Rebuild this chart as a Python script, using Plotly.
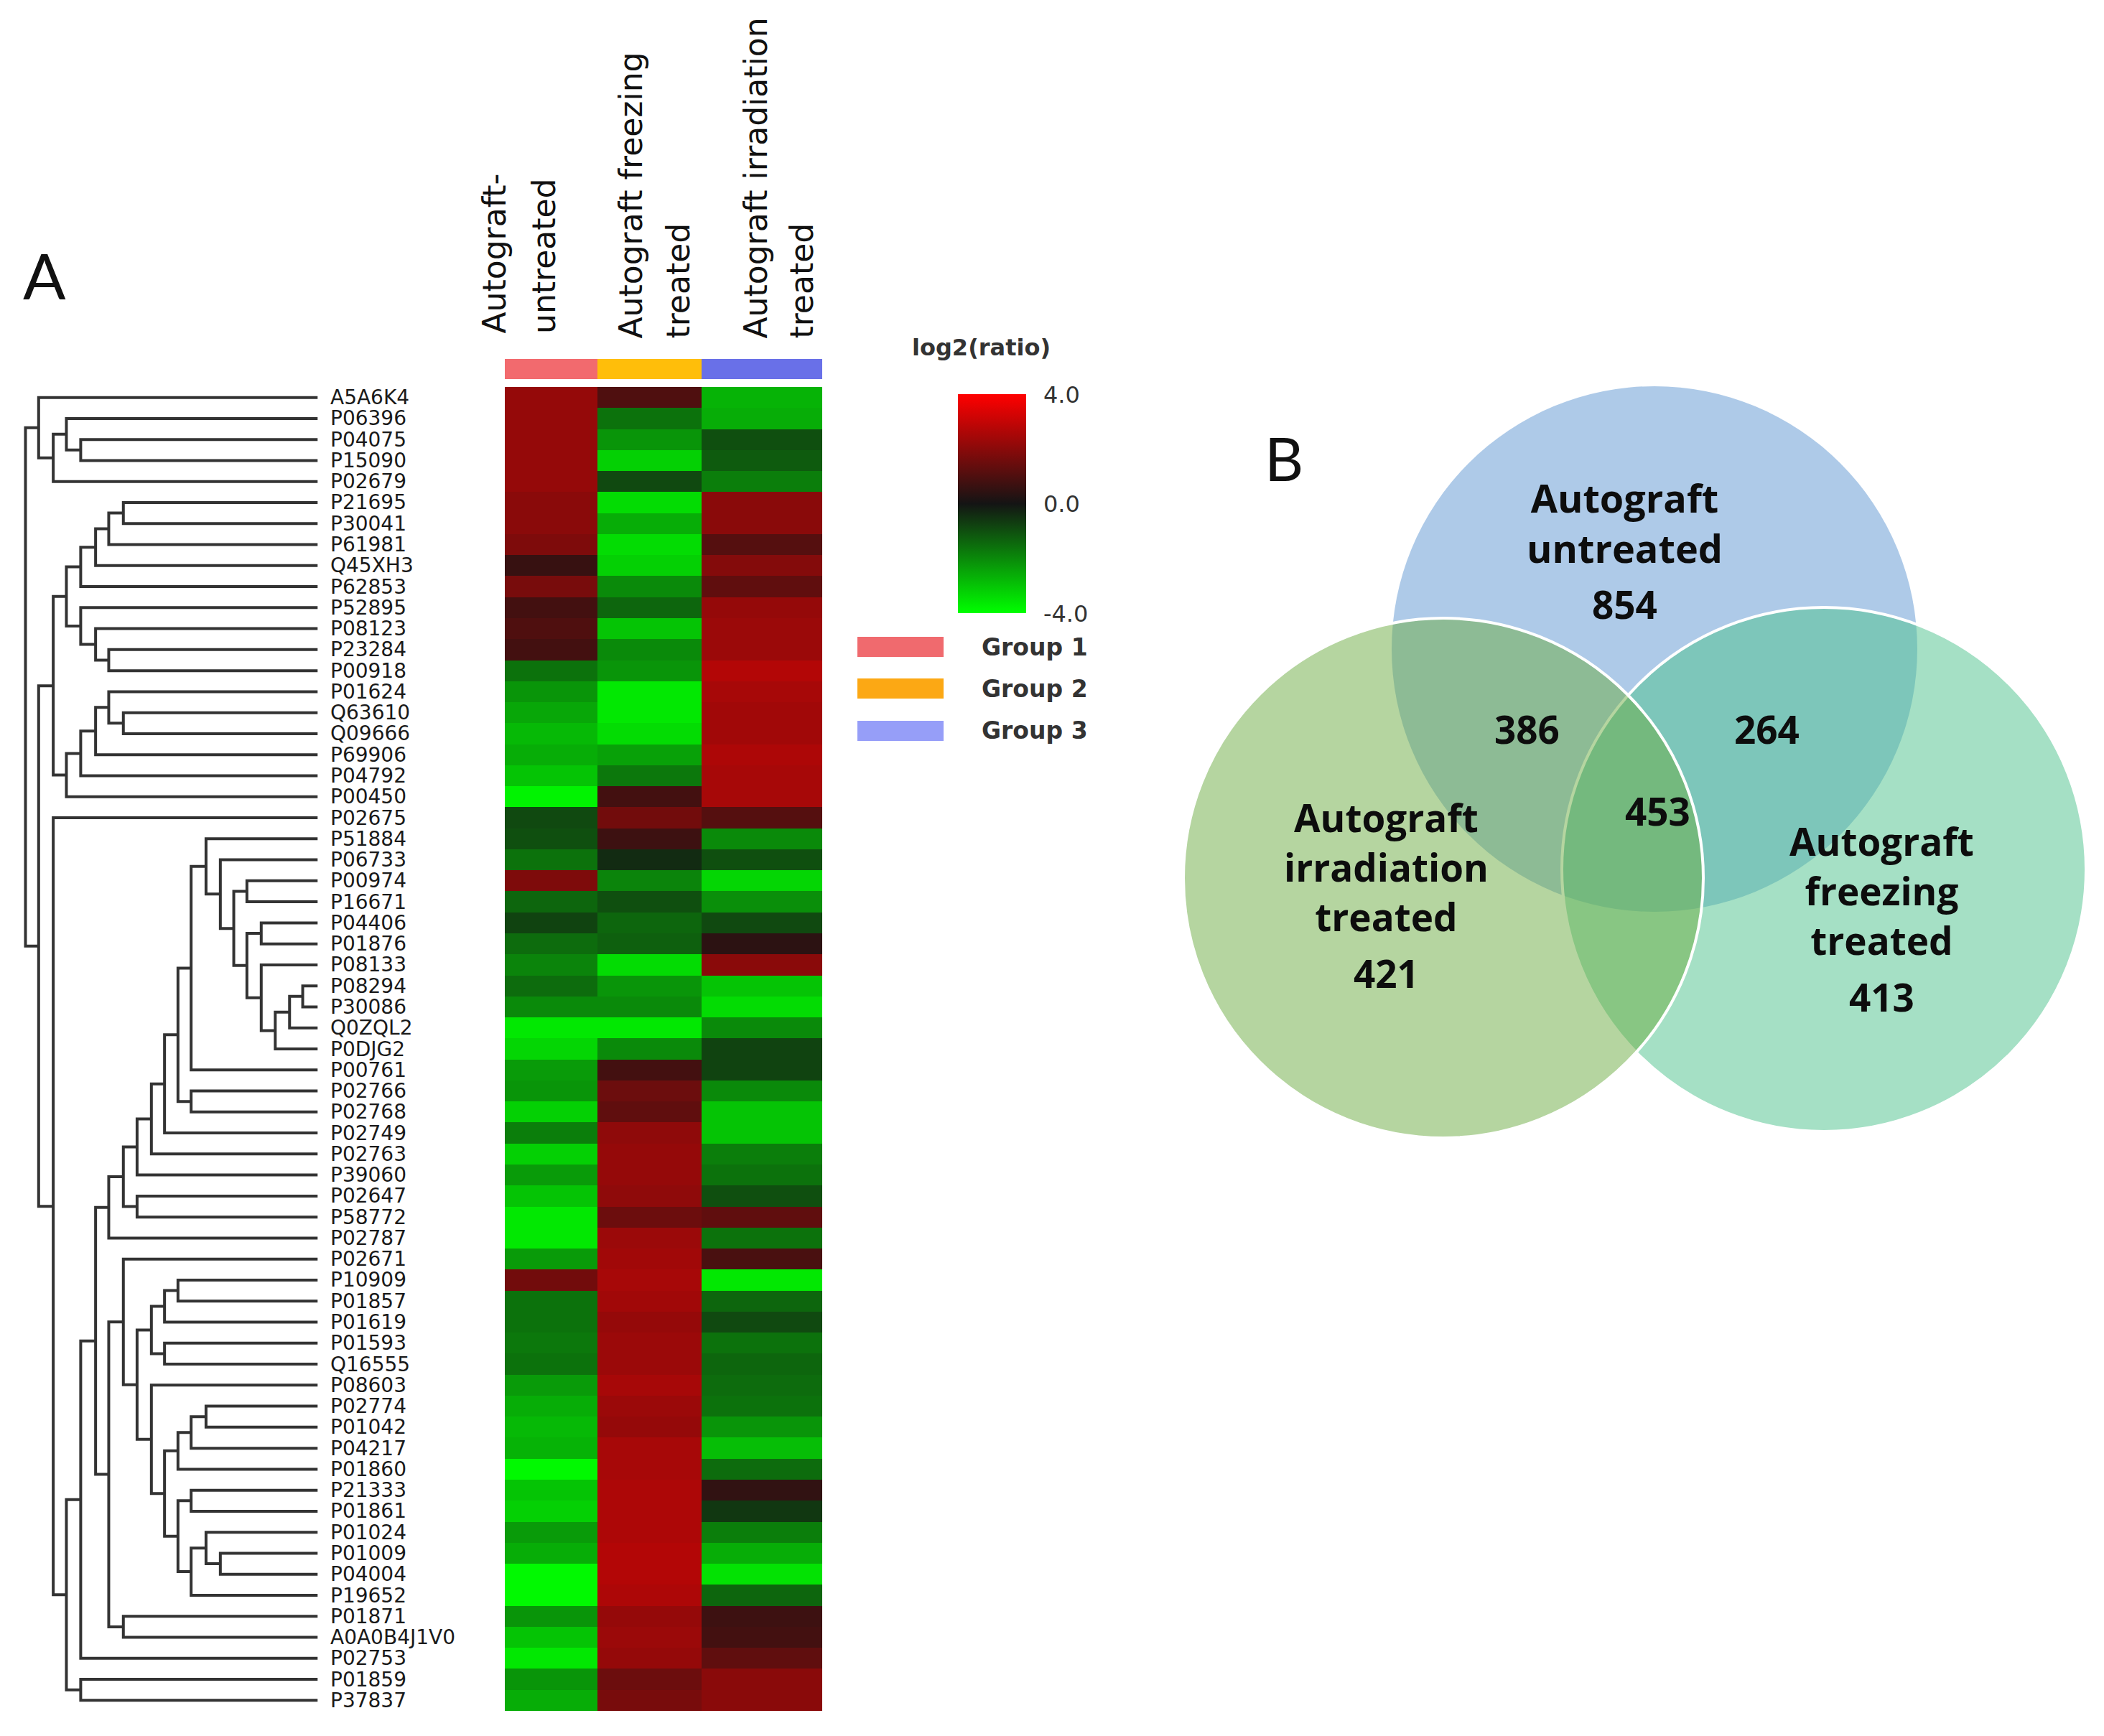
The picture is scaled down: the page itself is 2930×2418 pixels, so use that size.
import plotly.graph_objects as go

W, H = 2930, 2418


def px(x):
    return x / W


def py(y):
    return 1 - y / H


# ---------------- data ----------------
PROTEINS = [
    "A5A6K4", "P06396", "P04075", "P15090", "P02679", "P21695", "P30041", "P61981", "Q45XH3", "P62853",
    "P52895", "P08123", "P23284", "P00918", "P01624", "Q63610", "Q09666", "P69906", "P04792", "P00450",
    "P02675", "P51884", "P06733", "P00974", "P16671", "P04406", "P01876", "P08133", "P08294", "P30086",
    "Q0ZQL2", "P0DJG2", "P00761", "P02766", "P02768", "P02749", "P02763", "P39060", "P02647", "P58772",
    "P02787", "P02671", "P10909", "P01857", "P01619", "P01593", "Q16555", "P08603", "P02774", "P01042",
    "P04217", "P01860", "P21333", "P01861", "P01024", "P01009", "P04004", "P19652", "P01871", "A0A0B4J1V0",
    "P02753", "P01859", "P37837",
]

# log2(ratio) per sample group
UNTREATED = [
    2.2, 2.2, 2.2, 2.2, 2.2, 2.0, 2.0, 1.8, 0.6, 1.7,
    0.8, 1.0, 0.8, -1.6, -2.2, -2.5, -2.8, -2.6, -3.0, -3.8,
    -0.9, -1.0, -1.6, 1.8, -1.4, -0.8, -1.5, -1.9, -1.5, -2.0,
    -3.6, -3.3, -2.3, -2.2, -3.2, -1.8, -3.2, -2.3, -3.0, -3.6,
    -3.6, -2.3, 1.6, -1.6, -1.6, -1.7, -1.6, -2.3, -2.6, -2.8,
    -2.7, -3.9, -3.0, -3.2, -2.3, -2.6, -3.9, -3.9, -2.2, -3.0,
    -3.6, -2.2, -2.6,
]
FREEZING = [
    1.0, -1.6, -2.2, -3.2, -0.9, -3.4, -2.6, -3.4, -3.2, -2.0,
    -1.4, -3.0, -2.0, -2.2, -3.6, -3.6, -3.4, -2.4, -1.7, 0.8,
    1.6, 0.7, -0.4, -1.9, -1.0, -1.4, -1.3, -3.4, -2.2, -2.0,
    -3.6, -2.0, 0.8, 1.5, 1.3, 2.1, 2.2, 2.2, 2.1, 1.5,
    2.3, 2.4, 2.5, 2.4, 2.2, 2.3, 2.3, 2.5, 2.3, 2.2,
    2.5, 2.5, 2.6, 2.6, 2.6, 2.7, 2.7, 2.6, 2.2, 2.3,
    2.2, 1.5, 1.7,
]
IRRADIATION = [
    -2.7, -2.6, -1.0, -1.2, -1.8, 2.0, 2.0, 1.1, 1.9, 1.3,
    2.2, 2.3, 2.3, 2.7, 2.5, 2.4, 2.4, 2.6, 2.5, 2.5,
    1.1, -2.0, -1.0, -3.3, -2.1, -0.9, 0.4, 2.0, -3.0, -3.4,
    -2.0, -0.8, -0.8, -2.0, -3.0, -3.0, -1.8, -1.6, -1.0, 1.3,
    -1.6, 0.9, -3.6, -1.4, -0.9, -1.6, -1.4, -1.5, -1.6, -2.2,
    -2.9, -1.5, 0.5, -0.6, -1.8, -2.6, -3.5, -1.4, 0.7, 0.8,
    1.3, 2.0, 2.0,
]

COLUMN_HEADERS = [["Autograft-", "untreated"],
                  ["Autograft freezing", "treated"],
                  ["Autograft irradiation", "treated"]]
GROUP_NAMES = ["Group 1", "Group 2", "Group 3"]
HEADER_COLORS = ["#F26A6E", "#FFBE0A", "#6970E8"]
LEGEND_COLORS = ["#F06A6E", "#FCA814", "#969EF8"]
COLOR_TICKS = [4.0, 0.0, -4.0]

# hierarchical clustering merges: (node, child a, child b, height)
MERGES = [
    ("m1", "P04075", "P15090", 0.811), ("m2", "P06396", "m1", 0.860),
    ("m3", "m2", "P02679", 0.905), ("m4", "A5A6K4", "m3", 0.955),
    ("m5", "P21695", "P30041", 0.665), ("m6", "m5", "P61981", 0.715),
    ("m7", "m6", "Q45XH3", 0.760), ("m8", "m7", "P62853", 0.811),
    ("m9", "P23284", "P00918", 0.715), ("m10", "P08123", "m9", 0.760),
    ("m11", "P52895", "m10", 0.811), ("m12", "m8", "m11", 0.860),
    ("m13", "Q63610", "Q09666", 0.665), ("m14", "P01624", "m13", 0.715),
    ("m15", "m14", "P69906", 0.760), ("m16", "m15", "P04792", 0.811),
    ("m17", "m16", "P00450", 0.860), ("m18", "m12", "m17", 0.905),
    ("m19", "P08294", "P30086", 0.051), ("m20", "m19", "Q0ZQL2", 0.096),
    ("m21", "m20", "P0DJG2", 0.145), ("m22", "P08133", "m21", 0.193),
    ("m23", "P04406", "P01876", 0.193), ("m24", "m23", "m22", 0.242),
    ("m25", "P00974", "P16671", 0.242), ("m26", "m25", "m24", 0.287),
    ("m27", "P06733", "m26", 0.333), ("m28", "P51884", "m27", 0.382),
    ("m29", "m28", "P00761", 0.433), ("m30", "P02766", "P02768", 0.433),
    ("m31", "m29", "m30", 0.478), ("m32", "m31", "P02749", 0.524),
    ("m33", "m32", "P02763", 0.569), ("m34", "m33", "P39060", 0.618),
    ("m35", "P02647", "P58772", 0.618), ("m36", "m34", "m35", 0.665),
    ("m37", "m36", "P02787", 0.715),
    ("m38", "P10909", "P01857", 0.478), ("m39", "m38", "P01619", 0.524),
    ("m40", "P01593", "Q16555", 0.524), ("m41", "m39", "m40", 0.569),
    ("m42", "P02774", "P01042", 0.382), ("m43", "m42", "P04217", 0.433),
    ("m44", "m43", "P01860", 0.478), ("m45", "P21333", "P01861", 0.433),
    ("m46", "P01009", "P04004", 0.333), ("m47", "P01024", "m46", 0.382),
    ("m48", "m47", "P19652", 0.433), ("m49", "m45", "m48", 0.478),
    ("m50", "m44", "m49", 0.524), ("m51", "P08603", "m50", 0.569),
    ("m52", "m41", "m51", 0.618), ("m53", "P02671", "m52", 0.665),
    ("m54", "P01871", "A0A0B4J1V0", 0.665), ("m55", "m53", "m54", 0.715),
    ("m56", "m37", "m55", 0.760), ("m57", "m56", "P02753", 0.811),
    ("m58", "P01859", "P37837", 0.811), ("m59", "m57", "m58", 0.860),
    ("m60", "P02675", "m59", 0.905), ("m61", "m18", "m60", 0.955),
    ("m62", "m4", "m61", 1.000),
]

# Venn diagram
VENN_SETS = [["Autograft", "untreated"],
             ["Autograft", "irradiation", "treated"],
             ["Autograft", "freezing", "treated"]]
VENN_UNIQUE = [854, 421, 413]
VENN_UNTREATED_IRRADIATION = 386
VENN_UNTREATED_FREEZING = 264
VENN_ALL = 453

# ---------------- layout constants (pixels) ----------------
COL_EDGES = [0, 129, 274, 442]          # heatmap column edges within heatmap axis
HM_LEFT, HM_RIGHT, HM_TOP, HM_BOT = 703, 1145, 539, 2383
n = len(PROTEINS)

fig = go.Figure()

# dendrogram
pos = {p: (0.0, i) for i, p in enumerate(PROTEINS)}
dx, dy = [], []
for name, a, b, h in MERGES:
    ha, ya = pos[a]
    hb, yb = pos[b]
    dx += [ha, h, h, hb, None]
    dy += [ya, ya, yb, yb, None]
    pos[name] = (h, (ya + yb) / 2)
fig.add_trace(go.Scatter(x=dx, y=dy, mode="lines", xaxis="x", yaxis="y",
                         line=dict(color="#333333", width=4),
                         hoverinfo="skip", showlegend=False))

# heatmap
Z = [[u, f, r] for u, f, r in zip(UNTREATED, FREEZING, IRRADIATION)]
fig.add_trace(go.Heatmap(
    z=Z, x=COL_EDGES, y=list(range(n)), xaxis="x2", yaxis="y",
    colorscale=[[0, "rgb(0,255,0)"], [0.5, "rgb(20,20,20)"], [1, "rgb(255,0,0)"]],
    zmin=-4, zmax=4,
    colorbar=dict(x=px(1334), xanchor="left", y=py(702), yanchor="middle",
                  len=305 / H, lenmode="fraction", thickness=95, thicknessmode="pixels",
                  outlinewidth=0, tickmode="array", tickvals=COLOR_TICKS,
                  ticktext=[f"{v:.1f}" for v in COLOR_TICKS],
                  ticks="outside", ticklen=18, tickcolor="rgba(0,0,0,0)",
                  tickfont=dict(family="DejaVu Sans", size=32, color="#333333"),
                  xpad=0, ypad=0),
    showlegend=False))

# group header bar
fig.add_trace(go.Heatmap(
    z=[[0, 1, 2]], x=COL_EDGES, y=[0], xaxis="x2", yaxis="y3",
    colorscale=[[0, HEADER_COLORS[0]], [0.5, HEADER_COLORS[1]], [1, HEADER_COLORS[2]]],
    zmin=0, zmax=2, showscale=False, hoverinfo="skip"))

ann = []
# row labels
for i, p in enumerate(PROTEINS):
    ann.append(dict(text=p, xref="paper", yref="y", x=px(458), y=i, xanchor="left",
                    yanchor="middle", showarrow=False,
                    font=dict(family="DejaVu Sans", size=28, color="#1a1a1a")))

# column headers (rotated)
HEADER_X = [[688, 757], [878, 944], [1052, 1116]]
HEADER_BOTTOM = [467, 474, 474]
for c, lines in enumerate(COLUMN_HEADERS):
    for k, line in enumerate(lines):
        ann.append(dict(text=line, xref="paper", yref="paper", x=px(HEADER_X[c][k]),
                        y=py(HEADER_BOTTOM[c]), xanchor="center", yanchor="bottom",
                        textangle=-90, showarrow=False,
                        font=dict(family="DejaVu Sans", size=44, color="#111111")))

# panel letters
ann.append(dict(text="A", xref="paper", yref="paper", x=px(62), y=py(383),
                xanchor="center", yanchor="middle", showarrow=False,
                font=dict(family="Lato", size=88, color="#111111")))
ann.append(dict(text="B", xref="paper", yref="paper", x=px(1788), y=py(637),
                xanchor="center", yanchor="middle", showarrow=False,
                font=dict(family="Lato", size=84, color="#111111")))

# colour bar title
ann.append(dict(text="log2(ratio)", xref="paper", yref="paper", x=px(1366), y=py(484),
                xanchor="center", yanchor="middle", showarrow=False,
                font=dict(family="DejaVu Sans", size=32, color="#333333", weight="bold")))

shapes = []
# legend
LEG_Y = [901, 959, 1018]
for g, name in enumerate(GROUP_NAMES):
    shapes.append(dict(type="rect", xref="paper", yref="paper",
                       x0=px(1194), x1=px(1314), y0=py(LEG_Y[g] + 14), y1=py(LEG_Y[g] - 14),
                       fillcolor=LEGEND_COLORS[g], line=dict(width=0)))
    ann.append(dict(text=name, xref="paper", yref="paper", x=px(1365), y=py(LEG_Y[g]),
                    xanchor="left", yanchor="middle", showarrow=False,
                    font=dict(family="DejaVu Sans", size=33, color="#333333", weight="bold")))

# Venn circles: top (untreated), right (freezing), left (irradiation)
CIRCLES = [
    (2304, 904, 366, "rgba(93,149,209,0.5)", 0),
    (2540, 1211, 365, "rgba(75,193,139,0.5)", 4),
    (2010, 1223, 362, "rgba(107,171,65,0.5)", 4),
]
for cx, cy, r, col, lw in CIRCLES:
    shapes.append(dict(type="circle", xref="paper", yref="paper",
                       x0=px(cx - r), x1=px(cx + r), y0=py(cy + r), y1=py(cy - r),
                       fillcolor=col, line=dict(color="white", width=lw) if lw else dict(width=0)))

nfont = dict(family="Open Sans", size=53, color="#0d0d0d", weight="bold")


def vtext(t, x, y, f):
    ann.append(dict(text=t, xref="paper", yref="paper", x=px(x), y=py(y), align="center",
                    xanchor="center", yanchor="middle", showarrow=False, font=f))


# set names (one block each) and counts
SET_POS = [(2262, 728, 54, 841), (1930, 1207, 53, 1355), (2620, 1240, 53, 1388)]
for s, (x, yc, fs, ny) in enumerate(SET_POS):
    vtext("<br>".join(VENN_SETS[s]), x, yc,
          dict(family="Open Sans", size=fs, color="#0d0d0d", weight="bold"))
    vtext(str(VENN_UNIQUE[s]), x, ny, nfont)
vtext(str(VENN_UNTREATED_IRRADIATION), 2126, 1015, nfont)
vtext(str(VENN_UNTREATED_FREEZING), 2460, 1015, nfont)
vtext(str(VENN_ALL), 2308, 1129, nfont)

fig.update_layout(
    width=W, height=H, margin=dict(l=0, r=0, t=0, b=0),
    paper_bgcolor="white", plot_bgcolor="rgba(0,0,0,0)",
    font=dict(family="DejaVu Sans"),
    xaxis=dict(domain=[px(442.3 - 406.8 * 1.03), px(442.3 + 406.8 * 0.01)],
               range=[1.03, -0.01], visible=False, anchor="y"),
    yaxis=dict(domain=[py(HM_BOT), py(HM_TOP)], range=[n - 0.5, -0.5], visible=False, anchor="x"),
    xaxis2=dict(domain=[px(HM_LEFT), px(HM_RIGHT)], range=[0, 442], visible=False, anchor="y"),
    yaxis3=dict(domain=[py(528), py(500)], range=[-0.5, 0.5], visible=False, anchor="x2"),
    annotations=ann, shapes=shapes, showlegend=False,
)

fig.write_html("out.html", config={"displayModeBar": False},
               post_script="document.body.style.margin='0px';document.body.style.overflow='hidden';")
